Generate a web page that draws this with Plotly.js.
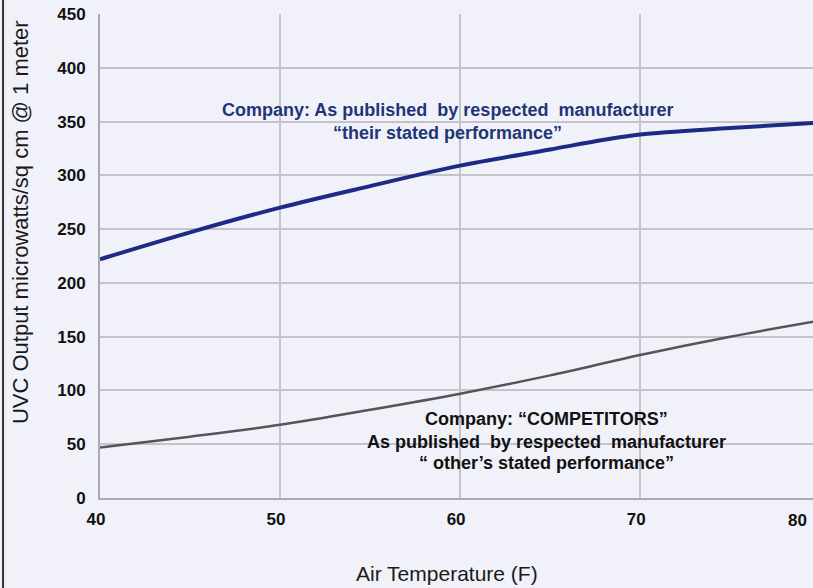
<!DOCTYPE html>
<html>
<head>
<meta charset="utf-8">
<script src="https://cdn.plot.ly/plotly-3.0.1.min.js"></script>
<style>html,body{margin:0;padding:0;background:#f1f2f9;}#chart{width:813px;height:588px;}</style>
</head>
<body>
<div id="chart"></div>
<script>
var temps = [40, 45, 50, 55, 60, 65, 68, 70, 75, 80];
var companyOutput = [222, 247, 270, 290, 309, 324, 333, 338, 344, 349];
var competitorTemps = [40, 45, 50, 55, 60, 65, 70, 75, 80];
var competitorOutput = [47, 57, 68, 82, 97, 114, 133, 150, 165];
var xTicks = [40, 50, 60, 70, 80];
var yTicks = [0, 50, 100, 150, 200, 250, 300, 350, 400, 450];
var companyLines = ["Company: As published  by respected  manufacturer", "\u201Ctheir stated performance\u201D"];
var companyLineY = [361, 339.5];
var competitorLines = ["Company: \u201CCOMPETITORS\u201D", "As published  by respected  manufacturer", "\u201C other\u2019s stated performance\u201D"];
var competitorLineY = [73, 52, 33];
var xTitle = 'Air Temperature (F)';
var yTitle = 'UVC Output microwatts/sq cm @ 1 meter';

var FONT = 'Liberation Sans, Arial, sans-serif';
var TICKFONT = {family: FONT, size: 17, color: '#111', weight: 'bold'};

var traces = [
  {x: temps, y: companyOutput, mode: 'lines', line: {color: '#1d2a86', width: 4, shape: 'spline'}, hoverinfo: 'none'},
  {x: competitorTemps, y: competitorOutput, mode: 'lines', line: {color: '#555558', width: 2.5, shape: 'spline'}, hoverinfo: 'none'}
];

var annotations = [];
companyLines.forEach(function (t, i) {
  annotations.push({x: 59.3, y: companyLineY[i], xref: 'x', yref: 'y', text: t, showarrow: false,
    font: {family: FONT, size: 18, color: '#1f3577', weight: 'bold'}});
});
competitorLines.forEach(function (t, i) {
  annotations.push({x: 64.8, y: competitorLineY[i], xref: 'x', yref: 'y', text: t, showarrow: false,
    font: {family: FONT, size: 18, color: '#111', weight: 'bold'}});
});
annotations.push({x: -0.1122, y: 0.57, xref: 'paper', yref: 'paper', text: yTitle, textangle: -90,
  showarrow: false, xanchor: 'center', yanchor: 'middle', font: {family: FONT, size: 22, color: '#1a1a1a'}});
annotations.push({x: 0.4867, y: -0.1839, xref: 'paper', yref: 'paper', text: xTitle,
  showarrow: false, xanchor: 'center', yanchor: 'bottom', font: {family: FONT, size: 21, color: '#1a1a1a'}});
// last x tick label sits just inside the right edge (its gridline is beyond the visible range)
annotations.push({x: 0.9776, y: -0.047, xref: 'paper', yref: 'paper', text: String(xTicks[xTicks.length - 1]),
  showarrow: false, xanchor: 'center', yanchor: 'middle', font: TICKFONT});

var layout = {
  width: 813, height: 588,
  margin: {l: 100, r: 0, t: 14, b: 90},
  paper_bgcolor: '#f1f2f9',
  plot_bgcolor: '#f1f2f9',
  showlegend: false,
  font: {family: FONT, color: '#111'},
  xaxis: {
    range: [40, 79.6], tickvals: xTicks, ticktext: xTicks.map(String),
    showgrid: true, gridcolor: '#c2c3cb', gridwidth: 2,
    showline: true, linecolor: '#a9aab2', linewidth: 2,
    zeroline: false, ticks: '', ticklabelstandoff: 5, ticklabelshift: -4,
    tickfont: TICKFONT
  },
  yaxis: {
    range: [0, 450], tickvals: yTicks, ticktext: yTicks.map(String),
    showgrid: true, gridcolor: '#c2c3cb', gridwidth: 2,
    showline: true, linecolor: '#a9aab2', linewidth: 2,
    zeroline: false, ticks: '', ticklabelstandoff: 9,
    tickfont: TICKFONT
  },
  annotations: annotations,
  shapes: [
    {type: 'line', xref: 'paper', yref: 'paper', x0: -0.136, x1: -0.136, y0: -0.2, y1: 1.03, line: {color: '#333', width: 2}}
  ]
};

Plotly.newPlot('chart', traces, layout, {displayModeBar: false, staticPlot: true});
</script>
</body>
</html>
